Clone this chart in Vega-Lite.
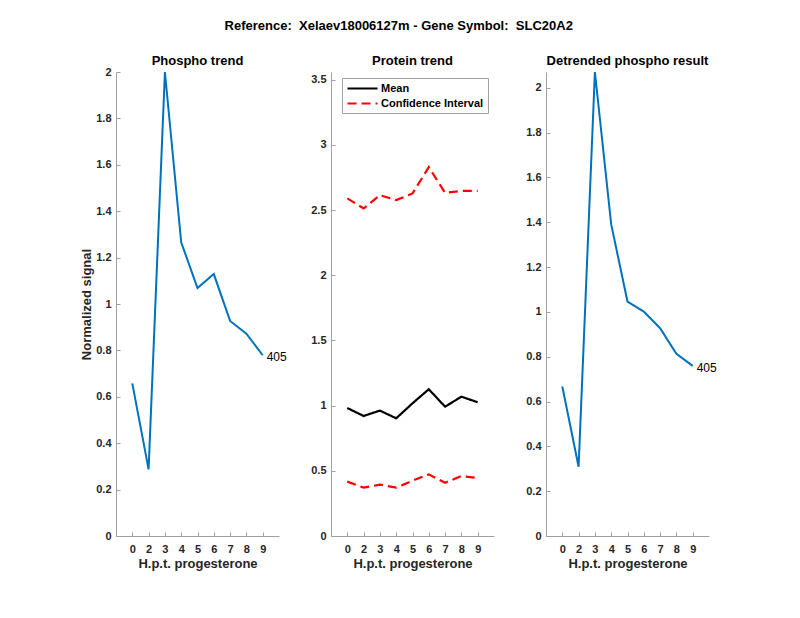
{
  "$schema": "https://vega.github.io/schema/vega-lite/v6.json",
  "background": "white",
  "padding": {"left": 80, "top": 20, "right": 5, "bottom": 5},
  "title": {"text": "Reference:\u00a0 Xelaev18006127m - Gene Symbol:\u00a0 SLC20A2", "anchor": "middle", "fontSize": 13, "font": "Liberation Sans", "fontWeight": "bold", "color": "#000000", "offset": 22},
  "datasets": {
    "phospho": [
      {"time": 0, "value": 0.658},
      {"time": 2, "value": 0.287},
      {"time": 3, "value": 2.0},
      {"time": 4, "value": 1.266},
      {"time": 5, "value": 1.069},
      {"time": 6, "value": 1.129},
      {"time": 7, "value": 0.927},
      {"time": 8, "value": 0.872},
      {"time": 9, "value": 0.779}
    ],
    "protein": [
      {"time": 0, "band": "mean", "series": "Mean", "value": 0.982},
      {"time": 2, "band": "mean", "series": "Mean", "value": 0.921},
      {"time": 3, "band": "mean", "series": "Mean", "value": 0.962},
      {"time": 4, "band": "mean", "series": "Mean", "value": 0.903},
      {"time": 5, "band": "mean", "series": "Mean", "value": 1.018},
      {"time": 6, "band": "mean", "series": "Mean", "value": 1.126},
      {"time": 7, "band": "mean", "series": "Mean", "value": 0.992},
      {"time": 8, "band": "mean", "series": "Mean", "value": 1.069},
      {"time": 9, "band": "mean", "series": "Mean", "value": 1.026},
      {"time": 0, "band": "upper", "series": "Confidence Interval", "value": 2.59},
      {"time": 2, "band": "upper", "series": "Confidence Interval", "value": 2.513},
      {"time": 3, "band": "upper", "series": "Confidence Interval", "value": 2.615},
      {"time": 4, "band": "upper", "series": "Confidence Interval", "value": 2.577},
      {"time": 5, "band": "upper", "series": "Confidence Interval", "value": 2.628},
      {"time": 6, "band": "upper", "series": "Confidence Interval", "value": 2.83},
      {"time": 7, "band": "upper", "series": "Confidence Interval", "value": 2.633},
      {"time": 8, "band": "upper", "series": "Confidence Interval", "value": 2.648},
      {"time": 9, "band": "upper", "series": "Confidence Interval", "value": 2.648},
      {"time": 0, "band": "lower", "series": "Confidence Interval", "value": 0.417},
      {"time": 2, "band": "lower", "series": "Confidence Interval", "value": 0.371},
      {"time": 3, "band": "lower", "series": "Confidence Interval", "value": 0.394},
      {"time": 4, "band": "lower", "series": "Confidence Interval", "value": 0.371},
      {"time": 5, "band": "lower", "series": "Confidence Interval", "value": 0.424},
      {"time": 6, "band": "lower", "series": "Confidence Interval", "value": 0.473},
      {"time": 7, "band": "lower", "series": "Confidence Interval", "value": 0.409},
      {"time": 8, "band": "lower", "series": "Confidence Interval", "value": 0.46},
      {"time": 9, "band": "lower", "series": "Confidence Interval", "value": 0.445}
    ],
    "detrended": [
      {"time": 0, "value": 0.667},
      {"time": 2, "value": 0.309},
      {"time": 3, "value": 2.07},
      {"time": 4, "value": 1.39},
      {"time": 5, "value": 1.046},
      {"time": 6, "value": 1.001},
      {"time": 7, "value": 0.927},
      {"time": 8, "value": 0.8125},
      {"time": 9, "value": 0.759}
    ]
  },
  "spacing": 52,
  "bounds": "flush",
  "resolve": {"legend": {"color": "independent", "strokeDash": "independent"}},
  "hconcat": [
    {
      "width": 163,
      "height": 464,
      "title": {"text": "Phospho trend", "offset": -2},
      "data": {"name": "phospho"},
      "encoding": {
        "x": {"field": "time", "type": "ordinal", "scale": {"type": "point", "padding": 1}, "axis": {"title": "H.p.t. progesterone"}},
        "y": {"field": "value", "type": "quantitative", "scale": {"domain": [0, 2], "nice": false, "zero": true}, "axis": {"title": "Normalized signal", "values": [0, 0.2, 0.4, 0.6, 0.8, 1, 1.2, 1.4, 1.6, 1.8, 2]}}
      },
      "layer": [
        {"mark": {"type": "line", "color": "#0072BD", "strokeWidth": 2}},
        {"transform": [{"filter": "datum.time == 9"}], "mark": {"type": "text", "text": "405", "align": "left", "baseline": "middle", "dx": 4, "dy": 2, "fontSize": 12, "font": "Liberation Sans", "color": "#000000"}}
      ]
    },
    {
      "width": 163,
      "height": 464,
      "title": {"text": "Protein trend", "offset": 4},
      "data": {"name": "protein"},
      "mark": {"type": "line", "strokeWidth": 2.2},
      "encoding": {
        "x": {"field": "time", "type": "ordinal", "scale": {"type": "point", "padding": 1}, "axis": {"title": "H.p.t. progesterone"}},
        "y": {"field": "value", "type": "quantitative", "scale": {"domain": [0, 3.56], "nice": false, "zero": true}, "axis": {"title": null, "values": [0, 0.5, 1, 1.5, 2, 2.5, 3, 3.5]}},
        "color": {"field": "series", "type": "nominal", "scale": {"domain": ["Mean", "Confidence Interval"], "range": ["#000000", "#ff0000"]}, "legend": {"title": null, "orient": "top-right", "offset": 6}},
        "strokeDash": {"field": "series", "type": "nominal", "scale": {"domain": ["Mean", "Confidence Interval"], "range": [[1, 0], [9, 5]]}, "legend": {"title": null, "orient": "top-right", "offset": 6}},
        "detail": {"field": "band", "type": "nominal"}
      }
    },
    {
      "width": 163,
      "height": 464,
      "title": {"text": "Detrended phospho result", "offset": 0},
      "data": {"name": "detrended"},
      "encoding": {
        "x": {"field": "time", "type": "ordinal", "scale": {"type": "point", "padding": 1}, "axis": {"title": "H.p.t. progesterone"}},
        "y": {"field": "value", "type": "quantitative", "scale": {"domain": [0, 2.07], "nice": false, "zero": true}, "axis": {"title": null, "values": [0, 0.2, 0.4, 0.6, 0.8, 1, 1.2, 1.4, 1.6, 1.8, 2]}}
      },
      "layer": [
        {"mark": {"type": "line", "color": "#0072BD", "strokeWidth": 2}},
        {"transform": [{"filter": "datum.time == 9"}], "mark": {"type": "text", "text": "405", "align": "left", "baseline": "middle", "dx": 4, "dy": 2, "fontSize": 12, "font": "Liberation Sans", "color": "#000000"}}
      ]
    }
  ],
  "config": {
    "view": {"stroke": null},
    "font": "Liberation Sans",
    "title": {"fontSize": 13, "font": "Liberation Sans", "fontWeight": "bold", "color": "#000000", "offset": 6},
    "axis": {
      "grid": false,
      "domainColor": "#a0a0a0",
      "tickColor": "#a0a0a0",
      "tickSize": -4,
      "labelPadding": 9,
      "labelOverlap": false,
      "labelColor": "#262626",
      "labelFont": "Liberation Sans",
      "labelFontSize": 11,
      "labelFontWeight": "bold",
      "titleFont": "Liberation Sans",
      "titleFontSize": 13,
      "titleFontWeight": "bold",
      "titleColor": "#262626",
      "format": "~g"
    },
    "axisX": {"labelAngle": 0, "labelPadding": 11, "titlePadding": 3},
    "axisY": {"titlePadding": 2},
    "legend": {
      "symbolType": "M-1,0H5",
      "symbolSize": 100,
      "symbolStrokeWidth": 2.2,
      "labelFont": "Liberation Sans",
      "labelFontSize": 11,
      "labelFontWeight": "bold",
      "labelColor": "#000000",
      "strokeColor": "#a0a0a0",
      "fillColor": "#ffffff",
      "padding": 4,
      "rowPadding": 3,
      "labelOffset": 22
    }
  }
}
